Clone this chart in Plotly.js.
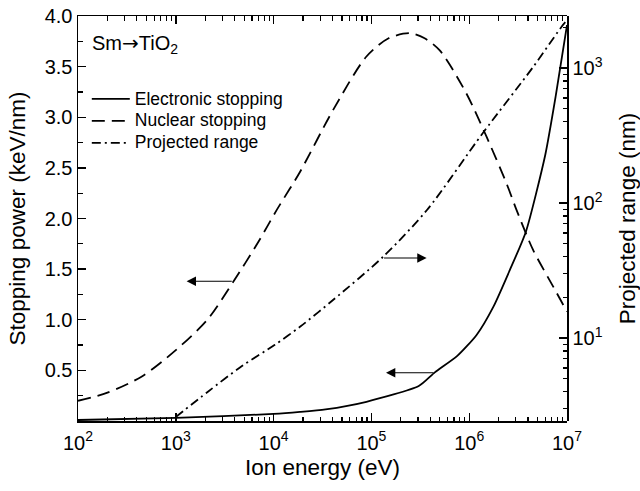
<!DOCTYPE html>
<html>
<head>
<meta charset="utf-8">
<script src="https://cdn.plot.ly/plotly-3.0.1.min.js"></script>
<style>html,body{margin:0;padding:0;background:#fff;}#chart{width:640px;height:491px;}</style>
</head>
<body>
<div id="chart"></div>
<script>
// Electronic stopping (keV/nm) vs ion energy (eV)
const elecEnergy = [100, 1000, 1e4, 1.86e4, 3.4e4, 8.9e4, 3.05e5, 4.45e5, 7.5e5, 1.19e6, 1.77e6, 2.6e6, 3.8e6, 6.0e6, 7.7e6, 1e7];
const elecStopping = [0.01, 0.03, 0.07, 0.09, 0.115, 0.19, 0.345, 0.48, 0.64, 0.85, 1.13, 1.49, 1.87, 2.63, 3.22, 3.91];

// Nuclear stopping (keV/nm)
const nuclEnergy = [100, 200, 450, 1000, 2100, 3900, 6900, 10700, 18600, 40500, 89000, 1.5e5, 2.45e5, 3.5e5, 5.0e5, 9.3e5, 1.5e6, 2.4e6, 3.06e6, 4.5e6, 7.2e6, 1e7];
const nuclStopping = [0.20, 0.28, 0.44, 0.70, 1.00, 1.38, 1.76, 2.08, 2.46, 3.07, 3.60, 3.78, 3.83, 3.78, 3.66, 3.24, 2.81, 2.35, 2.08, 1.69, 1.33, 1.08];

// Projected range (nm)
const rangeEnergy = [1000, 2130, 4750, 1.03e4, 1.86e4, 4.05e4, 1.31e5, 3.7e5, 1.38e6, 4.5e6, 9.1e6, 1e7];
const projRange = [2.6, 4.0, 6.2, 8.9, 12.1, 19.1, 39.8, 88.7, 330, 1016, 2085, 2250];

// Tick labels
const xTickVals = [1e2, 1e3, 1e4, 1e5, 1e6, 1e7];
const xTickText = ['10<sup>2</sup>', '10<sup>3</sup>', '10<sup>4</sup>', '10<sup>5</sup>', '10<sup>6</sup>', '10<sup>7</sup>'];
const yTickVals = [0.5, 1.0, 1.5, 2.0, 2.5, 3.0, 3.5, 4.0];
const yTickText = ['0.5', '1.0', '1.5', '2.0', '2.5', '3.0', '3.5', '4.0'];
const y2TickVals = [10, 100, 1000];
const y2TickText = ['10<sup>1</sup>', '10<sup>2</sup>', '10<sup>3</sup>'];

// Arrows: [tail energy, head energy, level on left axis]
const arrowNuclear = [3870, 1290, 1.38];
const arrowRange = [1.3e5, 3.67e5, 1.61];
const arrowElec = [4.47e5, 1.41e5, 0.477];

// minor tick positions (axis decoration)
function logMinors(kFrom, kTo, lo, hi) {
  const out = [];
  for (let k = kFrom; k <= kTo; k++) for (let m = 2; m <= 9; m++) {
    const v = m * Math.pow(10, k);
    if (v >= lo && v <= hi) out.push(v);
  }
  return out;
}
const xMinor = logMinors(2, 6, 100, 1e7);
const y2Minor = logMinors(0, 3, 2.43, 2427);

const FONT = 'Liberation Sans, Arial, Helvetica, sans-serif';
const L = s => '<span style="font-size:17.5px">' + s + '</span>';

const traces = [
  {x: elecEnergy, y: elecStopping, name: L('Electronic stopping'), mode: 'lines',
   line: {color: '#000', width: 1.8, shape: 'spline', smoothing: 0.6}},
  {x: nuclEnergy, y: nuclStopping, name: L('Nuclear stopping'), mode: 'lines',
   line: {color: '#000', width: 1.8, dash: '13px,7px', shape: 'spline', smoothing: 0.8}},
  {x: rangeEnergy, y: projRange, name: L('Projected range'), mode: 'lines', yaxis: 'y2',
   line: {color: '#000', width: 1.8, dash: '9px,4px,2px,4px', shape: 'spline', smoothing: 0.8}}
];

function arrow(a) {
  return {x: Math.log10(a[1]), y: a[2], ax: Math.log10(a[0]), ay: a[2],
    xref: 'x', yref: 'y', axref: 'x', ayref: 'y', text: '', showarrow: true,
    arrowhead: 2, arrowsize: 1.7, arrowwidth: 1.1, arrowcolor: '#000', standoff: 0, startstandoff: 0};
}

const minorCommon = {ticks: 'inside', ticklen: 4.5, tickwidth: 1.2, tickcolor: '#000', showgrid: false};
const axisCommon = {
  showline: true, linecolor: '#000', linewidth: 1.5, ticks: 'inside', ticklen: 8, tickwidth: 1.4,
  tickcolor: '#000', showgrid: false, zeroline: false, tickfont: {family: FONT, size: 20, color: '#000'}
};

const layout = {
  width: 640, height: 491,
  margin: {l: 78, r: 73, t: 16, b: 70},
  paper_bgcolor: '#fff', plot_bgcolor: 'rgba(0,0,0,0)',
  font: {family: FONT, color: '#000'},
  showlegend: true,
  legend: {x: 0.018, y: 0.835, xanchor: 'left', yanchor: 'top', bgcolor: 'rgba(0,0,0,0)',
    itemwidth: 38, font: {family: FONT, size: 14.6, color: '#000'}, tracegroupgap: 0},
  xaxis: Object.assign({}, axisCommon, {
    type: 'log', range: [2, 7], tickmode: 'array', tickvals: xTickVals, ticktext: xTickText,
    mirror: 'ticks', ticklabelstandoff: 3,
    minor: Object.assign({}, minorCommon, {tickmode: 'array', tickvals: xMinor}),
    title: {text: 'Ion energy (eV)', font: {family: FONT, size: 22.5, color: '#000'}, standoff: 6}
  }),
  yaxis: Object.assign({}, axisCommon, {
    range: [0, 4], tickmode: 'array', tickvals: yTickVals, ticktext: yTickText,
    minor: Object.assign({}, minorCommon, {dtick: 0.25}),
    title: {text: 'Stopping power (keV/nm)', font: {family: FONT, size: 22.5, color: '#000'}, standoff: 13}
  }),
  yaxis2: Object.assign({}, axisCommon, {
    type: 'log', anchor: 'x', side: 'right', range: [0.385, 3.385],
    tickmode: 'array', tickvals: y2TickVals, ticktext: y2TickText,
    minor: Object.assign({}, minorCommon, {tickmode: 'array', tickvals: y2Minor}),
    title: {text: 'Projected range (nm)', font: {family: FONT, size: 22.5, color: '#000'}, standoff: 17}
  }),
  annotations: [
    {xref: 'paper', yref: 'paper', x: 0.025, y: 0.93, xanchor: 'left', yanchor: 'middle',
     text: 'Sm<span style="font-family:DejaVu Sans">→</span>TiO<sub>2</sub>', showarrow: false,
     font: {family: FONT, size: 20, color: '#000'}},
    arrow(arrowNuclear), arrow(arrowRange), arrow(arrowElec)
  ]
};

Plotly.newPlot('chart', traces, layout, {staticPlot: true, displayModeBar: false});
</script>
</body>
</html>
